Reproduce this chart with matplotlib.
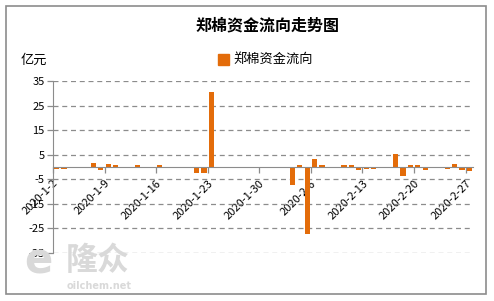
"""郑棉资金流向走势图 - daily fund flow bars, Jan-Feb 2020."""

import matplotlib
matplotlib.use("Agg")

import matplotlib.pyplot as plt
import pandas as pd
from matplotlib.patches import Rectangle

plt.rcParams["font.family"] = ["Noto Sans CJK SC", "DejaVu Sans"]
plt.rcParams["axes.unicode_minus"] = False

TITLE = "郑棉资金流向走势图"
SERIES_NAME = "郑棉资金流向"
UNIT = "亿元"

trade_dates = [
    "2020-01-02", "2020-01-03", "2020-01-06", "2020-01-07", "2020-01-08",
    "2020-01-09", "2020-01-10", "2020-01-13", "2020-01-14", "2020-01-15",
    "2020-01-16", "2020-01-17", "2020-01-20", "2020-01-21", "2020-01-22",
    "2020-01-23",
    "2020-02-03", "2020-02-04", "2020-02-05", "2020-02-06", "2020-02-07",
    "2020-02-10", "2020-02-11", "2020-02-12", "2020-02-13", "2020-02-14",
    "2020-02-17", "2020-02-18", "2020-02-19", "2020-02-20", "2020-02-21",
    "2020-02-24", "2020-02-25", "2020-02-26", "2020-02-27",
]
flow = [
    -0.8, -0.7, 0.0, 1.8, -1.1,
    1.2, 0.9, 0.9, 0.0, 0.0,
    0.9, -0.6, -0.6, -2.4, -2.4,
    30.7,
    -7.5, 1.0, -27.4, 3.3, 0.8,
    0.8, 1.0, -1.2, -1.0, -1.0,
    5.2, -3.5, 0.7, 1.0, -1.2,
    -1.0, 1.4, -1.2, -1.6,
]

y_ticks = [-35, -25, -15, -5, 5, 15, 25, 35]

BAR_COLOR = "#E36C0A"
GRID_COLOR = "#8c8c8c"


def main() -> None:
    dates = pd.to_datetime(trade_dates)

    fig = plt.figure(figsize=(4.94, 3.01), dpi=100)
    ax = fig.add_axes([53 / 494, 1 - 253 / 301, 420 / 494, 172 / 301])

    # spine position first: moving it resets the tick objects
    for side in ("top", "right"):
        ax.spines[side].set_visible(False)
    ax.spines["left"].set_color(GRID_COLOR)
    ax.spines["bottom"].set_color(GRID_COLOR)
    ax.spines["bottom"].set_position(("data", 0))
    ax.spines["bottom"].set_zorder(4)

    ax.bar(dates + pd.Timedelta(hours=12), flow, width=0.7,
           color=BAR_COLOR, zorder=3)

    ax.set_xlim(pd.Timestamp("2020-01-02"), pd.Timestamp("2020-02-28"))
    ax.set_ylim(-35, 35)

    x_ticks = pd.date_range("2020-01-02", "2020-02-27", freq="7D")
    ax.set_xticks(x_ticks)
    ax.set_xticklabels([f"{d.year}-{d.month}-{d.day}" for d in x_ticks],
                       rotation=45, ha="right", va="top",
                       rotation_mode="anchor", fontsize=8)
    ax.set_yticks(y_ticks)
    ax.set_yticklabels([str(v) for v in y_ticks], fontsize=8)

    ax.grid(axis="y", color=GRID_COLOR, linestyle=(0, (4, 3)), linewidth=0.9,
            zorder=0)
    ax.tick_params(axis="x", direction="out", length=4, width=0.9,
                   color=GRID_COLOR, pad=4)
    ax.tick_params(axis="y", direction="out", length=4, width=0.9,
                   color=GRID_COLOR, pad=2)

    # title, unit and legend
    fig.text(267 / 494, 1 - 25 / 301, TITLE, ha="center", va="center",
             fontsize=11.5, fontweight="bold")
    fig.text(21 / 494, 1 - 60 / 301, UNIT, ha="left", va="center", fontsize=9.5)
    fig.patches.append(Rectangle((218 / 494, 1 - 65 / 301), 11 / 494, 11 / 301,
                                 transform=fig.transFigure, color=BAR_COLOR))
    fig.text(233 / 494, 1 - 59 / 301, SERIES_NAME, ha="left", va="center",
             fontsize=9.5)

    # watermark
    fig.text(38 / 494, 1 - 262 / 301, "e", ha="center", va="center",
             fontsize=30, fontweight="bold", color="#d9d9d9",
             family=["DejaVu Sans"])
    fig.text(98 / 494, 1 - 261 / 301, "隆众", ha="center", va="center",
             fontsize=23, fontweight="bold", color="#d9d9d9")
    fig.text(99 / 494, 1 - 286 / 301, "oilchem.net", ha="center", va="center",
             fontsize=7, fontweight="bold", color="#d9d9d9",
             family=["DejaVu Sans"])

    # outer frame
    fig.patches.append(Rectangle((6 / 494, 1 - 294 / 301), 480 / 494, 288 / 301,
                                 transform=fig.transFigure, fill=False,
                                 edgecolor="#8c8c8c", linewidth=1.2))

    fig.savefig("out.png", dpi=100)


if __name__ == "__main__":
    main()
